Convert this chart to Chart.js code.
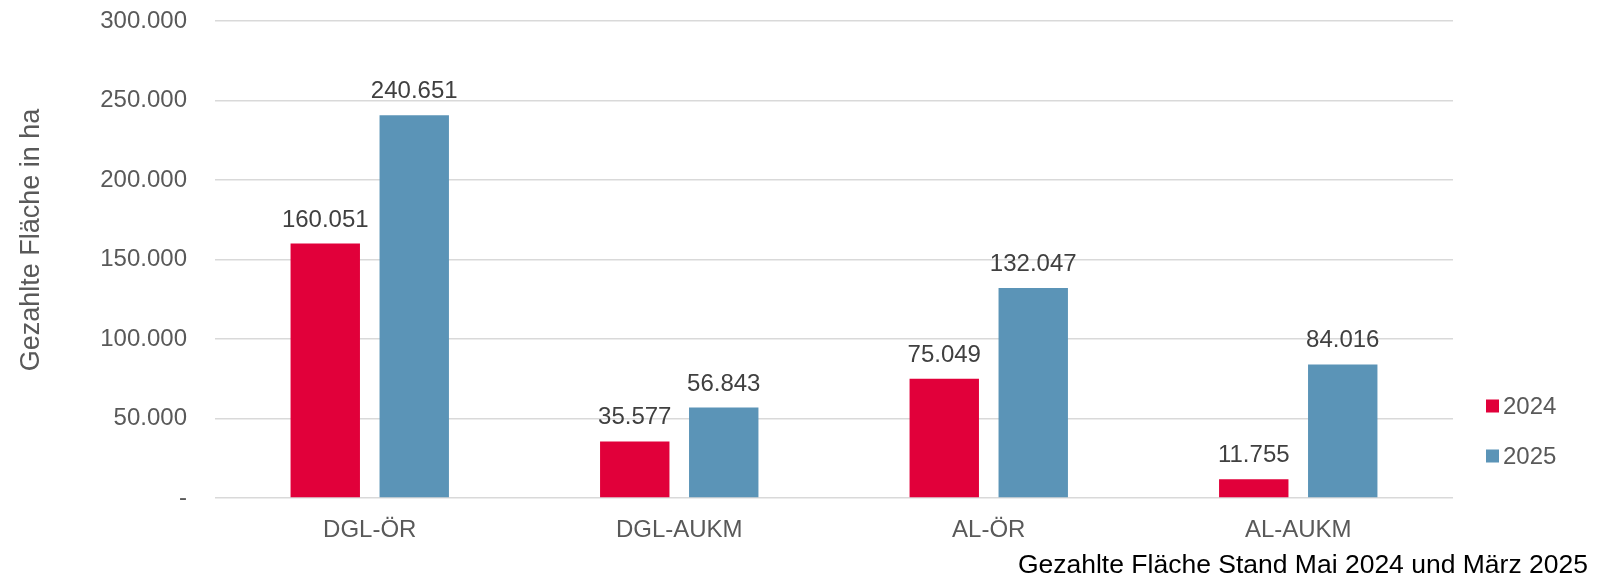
<!DOCTYPE html>
<html>
<head>
<meta charset="utf-8">
<script src="https://cdn.jsdelivr.net/npm/chart.js@4.4.1/dist/chart.umd.min.js"></script>
<style>
  html, body { margin: 0; padding: 0; background: #ffffff; }
  #wrap { width: 1599px; height: 581px; }
</style>
</head>
<body>
<div id="wrap"><canvas id="flaecheChart" width="1599" height="581"></canvas></div>
<script>
// data
const categories = ['DGL-ÖR', 'DGL-AUKM', 'AL-ÖR', 'AL-AUKM'];
const seriesNames = ['2024', '2025'];
const values2024 = [160051, 35577, 75049, 11755];
const values2025 = [240651, 56843, 132047, 84016];
const yTicks = [0, 50000, 100000, 150000, 200000, 250000, 300000];
const yTitle = 'Gezahlte Fläche in ha';
const caption = 'Gezahlte Fläche Stand Mai 2024 und März 2025';

const red = '#E1003A';
const blue = '#5B94B7';
const grey = '#595959';
const font = "'Liberation Sans', Arial, sans-serif";

// 160051 -> "160.051", 0 -> "-"
const fmt = v => {
  if (v === 0) return '-';
  return String(Math.round(v)).replace(/\B(?=(\d{3})+(?!\d))/g, '.');
};

// value labels on top of the bars
const barLabels = {
  id: 'barLabels',
  afterDatasetsDraw(chart) {
    const ctx = chart.ctx;
    ctx.save();
    ctx.font = '24px ' + font;
    ctx.fillStyle = '#404040';
    ctx.textAlign = 'center';
    ctx.textBaseline = 'alphabetic';
    chart.data.datasets.forEach((ds, i) => {
      chart.getDatasetMeta(i).data.forEach((bar, j) => {
        ctx.fillText(fmt(ds.data[j]), bar.x, bar.y - 17);
      });
    });
    ctx.restore();
  }
};

// legend on the right, axis title and caption
const extras = {
  id: 'extras',
  afterDraw(chart) {
    const ctx = chart.ctx;
    const x = chart.chartArea.right + 33;
    const rows = [406, 456];
    ctx.save();
    ctx.font = '24px ' + font;
    ctx.textBaseline = 'middle';
    chart.data.datasets.forEach((ds, i) => {
      ctx.fillStyle = ds.backgroundColor;
      ctx.fillRect(x, rows[i] - 6.5, 13, 13);
      ctx.fillStyle = grey;
      ctx.fillText(ds.label, x + 17, rows[i] + 1);
    });

    // rotated y axis title
    ctx.save();
    ctx.translate(32, 240);
    ctx.rotate(-Math.PI / 2);
    ctx.font = '27px ' + font;
    ctx.fillStyle = grey;
    ctx.textAlign = 'center';
    ctx.textBaseline = 'middle';
    ctx.fillText(yTitle, 0, 0);
    ctx.restore();

    // caption bottom right
    ctx.font = '26.5px ' + font;
    ctx.fillStyle = '#000000';
    ctx.textAlign = 'right';
    ctx.textBaseline = 'middle';
    ctx.fillText(caption, 1588, 566);
    ctx.restore();
  }
};

const ctx = document.getElementById('flaecheChart').getContext('2d');
new Chart(ctx, {
  type: 'bar',
  data: {
    labels: categories,
    datasets: [
      { label: seriesNames[0], data: values2024, backgroundColor: red },
      { label: seriesNames[1], data: values2025, backgroundColor: blue }
    ]
  },
  options: {
    responsive: false,
    animation: false,
    categoryPercentage: 0.575,
    barPercentage: 0.78,
    layout: { padding: { top: 21, right: 146, bottom: 0, left: 0 } },
    scales: {
      x: {
        grid: { display: false },
        border: { display: false },
        ticks: { color: grey, font: { family: font, size: 24 }, padding: 10, maxRotation: 0 },
        afterFit: scale => { scale.height = 83; scale.paddingLeft = 0; scale.paddingRight = 0; }
      },
      y: {
        min: 0,
        max: 300000,
        afterBuildTicks: scale => { scale.ticks = yTicks.map(v => ({ value: v })); },
        grid: { color: '#d9d9d9', lineWidth: 1.5, drawTicks: false },
        border: { display: false },
        ticks: { color: grey, font: { family: font, size: 24 }, padding: 28, callback: v => fmt(v) },
        afterFit: scale => { scale.width = 215; scale.paddingTop = 0; scale.paddingBottom = 0; }
      }
    },
    plugins: {
      legend: { display: false },
      tooltip: { enabled: false },
      title: { display: false }
    }
  },
  plugins: [barLabels, extras]
});
</script>
</body>
</html>
